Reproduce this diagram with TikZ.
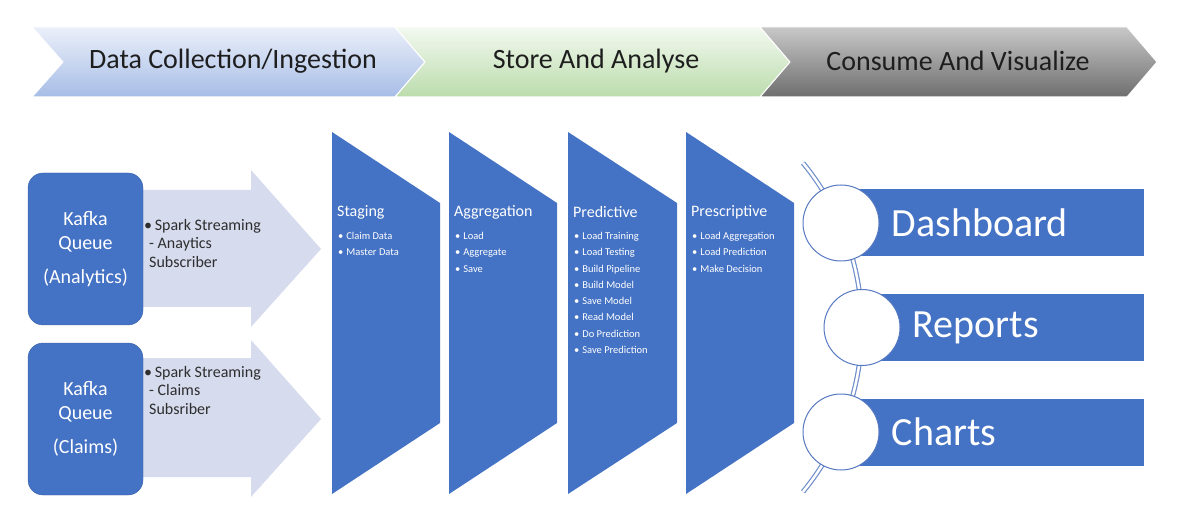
\documentclass[tikz,border=0pt]{standalone}
\usepackage{fontspec}
\setmainfont{Carlito}
\usetikzlibrary{positioning}

\definecolor{boxblue}{HTML}{4472C4}
\definecolor{feedgrey}{HTML}{D6DBEE}
\definecolor{ringblue}{HTML}{5679C2}
\definecolor{linkblue}{HTML}{6F8ECA}
\definecolor{inktext}{HTML}{1E1E1E}
\definecolor{feedtext}{HTML}{2E2E2E}
\definecolor{collecttop}{HTML}{EBF0FA}
\definecolor{collectbot}{HTML}{A7BDE6}
\definecolor{storetop}{HTML}{F3F9F0}
\definecolor{storebot}{HTML}{BBDCAC}
\definecolor{consumetop}{HTML}{C8C8C8}
\definecolor{consumebot}{HTML}{6E6E6E}

\begin{document}
\begin{tikzpicture}[
    x=1pt, y=-1pt,
    phase/.style={draw=white, line width=1pt},
    phasetext/.style={text=inktext, font=\fontsize{28}{32}\selectfont},
    kafka/.style={rectangle, rounded corners=15pt, fill=boxblue, draw=boxblue!85!black, text=white, minimum width=115pt, minimum height=152pt, align=center, font=\fontsize{20}{24}\selectfont},
    feed/.style={fill=feedgrey},
    feedtext/.style={anchor=north west, inner sep=0pt, align=left, text=feedtext, font=\fontsize{16}{18.5}\selectfont},
    stage/.style={fill=boxblue},
    stagetitle/.style={anchor=west, inner sep=0pt, text=white, font=\fontsize{16}{18}\selectfont},
    stageitems/.style={anchor=north west, inner sep=0pt, align=left, text=white, font=\fontsize{10.5}{16.3}\selectfont},
    outbar/.style={rectangle, fill=boxblue, anchor=west, minimum width=303pt, minimum height=67pt, inner sep=0pt},
    ring/.style={circle, draw=ringblue, line width=1pt, fill=white, minimum size=76pt, inner sep=0pt},
    outtext/.style={inner sep=0pt, text=white, font=\fontsize{40}{44}\selectfont},
    link/.style={draw=linkblue, line width=1.2pt, double=white, double distance=2.5pt}
]
\useasboundingbox (0,0) rectangle (1177,526);

% phase chevrons
\shade[phase, top color=collecttop, bottom color=collectbot] (32,27) -- (395,27) -- (425,62) -- (395,97) -- (32,97) -- (63,62) -- cycle;
\shade[phase, top color=storetop, bottom color=storebot] (395,27) -- (760,27) -- (790,62) -- (760,97) -- (395,97) -- (425,62) -- cycle;
\shade[phase, top color=consumetop, bottom color=consumebot] (760,27) -- (1127,27) -- (1157,62) -- (1127,97) -- (760,97) -- (790,62) -- cycle;
\node (collect) [phasetext] at (233,61) {Data Collection/Ingestion};
\node (store) [phasetext] at (596,61) {Store And Analyse};
\node (consume) [phasetext] at (958,61) {Consume And Visualize};

% feed arrows
\fill[feed] (100,190) -- (251,190) -- (251,170) -- (321,249) -- (251,327) -- (251,307) -- (100,307) -- cycle;
\fill[feed] (100,358) -- (251,358) -- (251,340) -- (321,419) -- (251,497) -- (251,477) -- (100,477) -- cycle;

% kafka queues
\node (qanalytics) [kafka] at (85.5,249) {Kafka\\Queue\\[10pt](Analytics)};
\node (qclaims) [kafka] at (85.5,419) {Kafka\\Queue\\[10pt](Claims)};

\node (sanalytics) [feedtext] at (144,219) {\textbullet\,Spark Streaming\\\hspace*{5pt}- Anaytics\\\hspace*{5pt}Subscriber};
\node (sclaims) [feedtext] at (144,366) {\textbullet\,Spark Streaming\\\hspace*{5pt}- Claims\\\hspace*{5pt}Subsriber};

% processing stages
\fill[stage] (332,132) -- (440,203) -- (440,423) -- (332,494) -- cycle;
\fill[stage] (449,132) -- (557,203) -- (557,423) -- (449,494) -- cycle;
\fill[stage] (568,132) -- (677,203) -- (677,423) -- (568,494) -- cycle;
\fill[stage] (686,132) -- (794,203) -- (794,423) -- (686,494) -- cycle;

\node (staging) [stagetitle] at (337,212) {Staging};
\node (stagingitems) [stageitems] at (338,232) {\textbullet\;Claim Data\\\textbullet\;Master Data};
\node (aggregation) [stagetitle] at (454,212) {Aggregation};
\node (aggregationitems) [stageitems] at (455,232) {\textbullet\;Load\\\textbullet\;Aggregate\\\textbullet\;Save};
\node (predictive) [stagetitle] at (573,212) {Predictive};
\node (predictiveitems) [stageitems] at (574,232) {\textbullet\;Load Training\\\textbullet\;Load Testing\\\textbullet\;Build Pipeline\\\textbullet\;Build Model\\\textbullet\;Save Model\\\textbullet\;Read Model\\\textbullet\;Do Prediction\\\textbullet\;Save Prediction};
\node (prescriptive) [stagetitle] at (691,212) {Prescriptive};
\node (prescriptiveitems) [stageitems] at (692,232) {\textbullet\;Load Aggregation\\\textbullet\;Load Prediction\\\textbullet\;Make Decision};

% outputs
\coordinate (linktop) at (803,163);
\draw[link] (linktop) arc[start angle=-39.4, end angle=39.4, radius=259];

\node (dashbar) [outbar] at (841,222.5) {};
\node (reportbar) [outbar, minimum width=282pt] at (862,327.5) {};
\node (chartbar) [outbar] at (841,432.5) {};

\node (dash) [ring] at (841,223) {};
\node (report) [ring] at (862,327.5) {};
\node (chart) [ring] at (841,432) {};

\node (dashtext) [outtext, right=12pt of dash.east] {Dashboard};
\node (reporttext) [outtext, right=12pt of report.east] {Reports};
\node (charttext) [outtext, right=12pt of chart.east] {Charts};

\end{tikzpicture}
\end{document}
